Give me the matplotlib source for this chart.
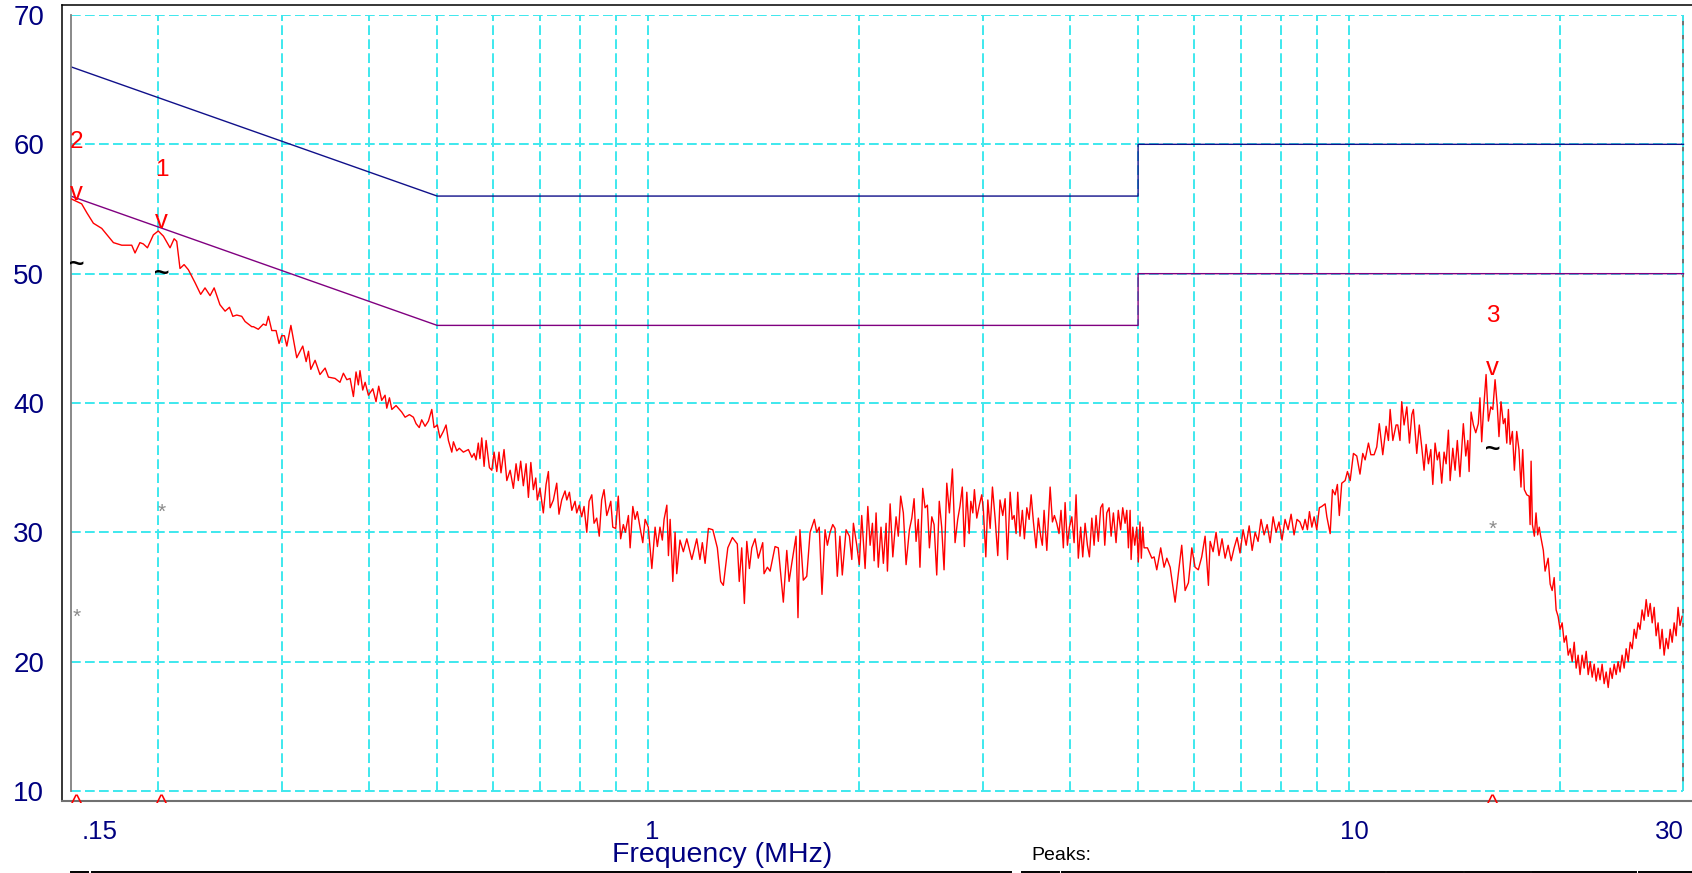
import numpy as np
import matplotlib
matplotlib.use('Agg')
import matplotlib.pyplot as plt
import matplotlib.transforms as mtransforms
from matplotlib.lines import Line2D
from matplotlib.ticker import NullLocator

plt.rcParams['font.family'] = ['Liberation Sans', 'DejaVu Sans']

# Scan trace (MHz, dBuV)
freq_mhz = [
    0.1500, 0.1555, 0.1582, 0.1616, 0.1661, 0.1726, 0.1774, 0.1833, 0.1853, 0.1883, 0.1904, 0.1930, 0.1968, 0.2000, 0.2034, 0.2079, 0.2107, 0.2125, 0.2148, 0.2177, 0.2208, 0.2257, 0.2299, 0.2332, 0.2371, 0.2403, 0.2449, 0.2491, 0.2527, 0.2555, 0.2588, 0.2631, 0.2660, 0.2719,
    0.2734, 0.2778, 0.2824, 0.2850, 0.2872, 0.2904, 0.2945, 0.2974, 0.3000, 0.3027, 0.3051, 0.3092, 0.3152, 0.3215, 0.3251, 0.3276, 0.3301, 0.3348, 0.3402, 0.3460, 0.3498, 0.3575, 0.3633, 0.3674, 0.3716, 0.3756, 0.3797, 0.3830, 0.3859, 0.3880, 0.3915, 0.3946, 0.3989, 0.4047, 0.4090, 0.4126, 0.4167, 0.4213, 0.4237, 0.4274, 0.4308, 0.4368, 0.4450, 0.4500, 0.4564, 0.4624, 0.4665, 0.4714, 0.4752, 0.4805, 0.4858, 0.4912, 0.4949, 0.5002, 0.5046,
    0.5102, 0.5148, 0.5188, 0.5246, 0.5274, 0.5332, 0.5377, 0.5449, 0.5540, 0.5603, 0.5645, 0.5681, 0.5723, 0.5754, 0.5788, 0.5833, 0.5872, 0.5936, 0.5983, 0.6028, 0.6081, 0.6126, 0.6166, 0.6228, 0.6285, 0.6354, 0.6422, 0.6479, 0.6527, 0.6578, 0.6636, 0.6696, 0.6747, 0.6801, 0.6858, 0.6912, 0.6948, 0.7008, 0.7086, 0.7150, 0.7205, 0.7246, 0.7324, 0.7405, 0.7460, 0.7527, 0.7610, 0.7654, 0.7720, 0.7781, 0.7864, 0.7908, 0.7974, 0.8038, 0.8100, 0.8173, 0.8236, 0.8309, 0.8371, 0.8444, 0.8515, 0.8583, 0.8650, 0.8728, 0.8774, 0.8844, 0.8902, 0.8989, 0.9064, 0.9135, 0.9216, 0.9278, 0.9371,
    0.9424, 0.9508, 0.9579, 0.9650, 0.9734, 0.9824, 0.9900, 1.0003, 1.0121, 1.0230, 1.0306, 1.0395, 1.0476, 1.0536, 1.0632, 1.0688, 1.0748, 1.0843, 1.0924, 1.0984, 1.1101, 1.1225, 1.1353, 1.1542, 1.1730, 1.1854, 1.1947, 1.2056, 1.2188, 1.2365, 1.2551, 1.2689, 1.2801, 1.2990, 1.3188, 1.3402, 1.3488, 1.3597, 1.3716, 1.3826, 1.3945, 1.4055, 1.4207, 1.4358, 1.4569, 1.4632, 1.4794, 1.4926, 1.5171, 1.5333, 1.5589, 1.5767, 1.5887, 1.6028, 1.6254, 1.6358, 1.6463, 1.6647, 1.6837, 1.7022, 1.7262, 1.7396, 1.7541, 1.7700, 1.7879, 1.8016, 1.8177,
    1.8338, 1.8475, 1.8613, 1.8774, 1.8921, 1.9157, 1.9368, 1.9522, 1.9624, 1.9842, 2.0008, 2.0168, 2.0393, 2.0577, 2.0733, 2.0890, 2.1006, 2.1142, 2.1298, 2.1487, 2.1654, 2.1850, 2.1945, 2.2141, 2.2337, 2.2577, 2.2744, 2.2922, 2.3124, 2.3333, 2.3589, 2.3776, 2.3954, 2.4110, 2.4288, 2.4420, 2.4644, 2.4834, 2.5025, 2.5191, 2.5390, 2.5580, 2.5804, 2.6020, 2.6228, 2.6432, 2.6671, 2.6901, 2.7167, 2.7406, 2.7645, 2.7848, 2.8066, 2.8256, 2.8484, 2.8702, 2.8863, 2.9052, 2.9204, 2.9432, 2.9678, 2.9916, 3.0078, 3.0320, 3.0522, 3.0755, 3.0987, 3.1259, 3.1532, 3.1764, 3.2055, 3.2303, 3.2551, 3.2842,
    3.3058, 3.3274, 3.3489, 3.3673, 3.3921, 3.4185, 3.4416, 3.4692, 3.4957, 3.5187, 3.5452, 3.5763, 3.6028, 3.6309, 3.6506, 3.6715, 3.7047, 3.7244, 3.7453, 3.7736, 3.7982, 3.8277, 3.8559, 3.8814, 3.9116, 3.9339, 3.9641, 3.9904, 4.0219, 4.0521, 4.0783, 4.1085, 4.1407, 4.1687, 4.2010, 4.2332, 4.2612, 4.2949, 4.3271, 4.3552, 4.3874, 4.4218, 4.4517, 4.4816, 4.5116, 4.5460, 4.5760, 4.6104, 4.6508, 4.6853, 4.7219, 4.7539, 4.7907, 4.8179, 4.8434, 4.8706, 4.8866, 4.9138, 4.9458, 4.9778, 5.0034, 5.0313, 5.0535, 5.0774, 5.0996, 5.1560, 5.2311, 5.2704, 5.3165, 5.3857, 5.4458, 5.4951, 5.5553, 5.6464, 5.7066, 5.7707, 5.8350, 5.8992, 5.9655, 6.0297, 6.0940, 6.1625, 6.2311, 6.2997, 6.3351,
    6.3975, 6.4599, 6.5223, 6.5880, 6.6548, 6.7215, 6.7883, 6.8550, 6.9218, 6.9885, 7.0597, 7.1308, 7.2020, 7.2731, 7.3443, 7.4155, 7.4882, 7.5640, 7.6399, 7.7157, 7.7915, 7.8674, 7.9432, 8.0225, 8.1035, 8.1845, 8.2655, 8.3465, 8.4275,
    8.5095, 8.5877, 8.6544, 8.7211, 8.7790, 8.8486, 8.9152, 8.9935, 9.0688, 9.1415, 9.2434, 9.2958, 9.3976, 9.4686, 9.5519, 9.6228, 9.6845, 9.7621, 9.8709, 9.9466, 10.036, 10.144, 10.256, 10.365, 10.460, 10.541, 10.657, 10.741, 10.857, 10.952, 11.043, 11.170, 11.294, 11.380, 11.444, 11.546, 11.670, 11.734, 11.820, 11.888, 11.980, 12.089, 12.193, 12.289, 12.353, 12.490, 12.594, 12.695, 12.793, 12.879, 12.978, 13.080, 13.166, 13.265, 13.363, 13.449, 13.557, 13.662, 13.754, 13.859, 13.937, 14.060, 14.165, 14.270, 14.394, 14.555, 14.672, 14.770, 14.834, 14.931, 15.044, 15.161, 15.288, 15.371, 15.460, 15.543, 15.684, 15.804, 15.930, 16.034, 16.154, 16.274, 16.363, 16.471, 16.599, 16.694, 16.788, 16.877, 16.972, 17.100, 17.212, 17.345, 17.473, 17.589, 17.690, 17.785, 17.928, 18.065, 18.124, 18.184, 18.261, 18.380, 18.481, 18.582, 18.677, 18.764, 18.930,
    19.039, 19.231, 19.359, 19.487, 19.615, 19.743, 19.871, 19.999, 20.135, 20.271, 20.406, 20.542, 20.678, 20.814, 20.950, 21.086, 21.221, 21.357, 21.502, 21.647, 21.792, 21.937, 22.082, 22.227, 22.372, 22.517, 22.662, 22.807, 22.962, 23.117, 23.271, 23.426, 23.581, 23.736, 23.891, 24.045, 24.200, 24.355, 24.520, 24.686, 24.851, 25.017, 25.182, 25.347, 25.513, 25.678, 25.844, 26.009, 26.186, 26.362, 26.539, 26.715, 26.892, 27.068, 27.245, 27.421, 27.598, 27.774, 27.963, 28.151, 28.340, 28.528, 28.717, 28.906, 29.094, 29.283, 29.471, 29.660, 29.860,
]
level_dbuv = [
    55.8, 55.4, 54.7, 53.9, 53.5, 52.4, 52.2, 52.2, 51.6, 52.4, 52.3, 52.0, 53.0, 53.3, 52.9, 52.0, 52.7, 52.5, 50.4, 50.7, 50.3, 49.3, 48.4, 48.9, 48.3, 48.9, 47.6, 47.1, 47.4, 46.7, 46.8, 46.7, 46.3, 45.9,
    45.9, 45.7, 46.1, 46.0, 46.7, 45.6, 45.6, 44.6, 45.2, 45.2, 44.4, 46.0, 43.5, 44.4, 43.2, 44.0, 42.6, 43.3, 42.2, 42.7, 42.0, 41.9, 41.6, 42.3, 41.8, 41.9, 40.5, 42.4, 41.4, 42.5, 41.0, 41.6, 40.6, 41.1, 40.1, 41.3, 40.2, 40.6, 39.6, 40.4, 39.5, 39.8, 39.3, 38.9, 39.1, 38.9, 38.4, 38.1, 38.7, 38.2, 38.6, 39.5, 38.1, 38.3, 37.3,
    37.8, 38.3, 37.1, 36.2, 37.0, 36.3, 36.5, 36.2, 36.4, 35.8, 36.1, 35.6, 36.9, 35.7, 37.3, 35.1, 37.1, 35.0, 34.8, 36.2, 34.7, 36.2, 34.6, 36.4, 34.0, 34.8, 33.4, 35.3, 34.0, 35.5, 33.6, 35.3, 32.7, 35.4, 33.3, 34.2, 32.5, 33.4, 31.5, 33.7, 34.7, 31.9, 32.5, 33.8, 31.4, 32.5, 33.2, 32.5, 33.1, 31.7, 32.4, 31.5, 32.1, 31.2, 32.0, 30.0, 32.4, 32.9, 30.7, 31.1, 29.7, 32.5, 33.3, 31.3, 31.7, 32.4, 30.4, 30.3, 32.8, 29.5, 30.6, 30.0, 31.3,
    28.8, 32.0, 31.0, 31.6, 30.4, 29.2, 31.0, 30.4, 27.2, 30.4, 28.9, 30.4, 29.4, 31.0, 32.1, 28.2, 31.0, 26.2, 30.0, 26.8, 29.4, 28.5, 29.5, 27.9, 29.5, 27.9, 29.2, 27.6, 30.3, 30.2, 28.8, 26.2, 25.9, 28.8, 29.6, 29.1, 26.2, 28.8, 24.5, 29.3, 27.2, 28.8, 29.5, 28.0, 29.2, 26.8, 27.3, 27.0, 28.9, 28.8, 24.6, 28.6, 26.2, 27.6, 29.7, 23.4, 30.2, 26.3, 26.6, 30.0, 31.0, 30.0, 30.4, 25.2, 30.2, 29.0, 30.0,
    30.6, 30.3, 26.6, 29.7, 26.7, 30.2, 29.7, 27.9, 30.7, 29.0, 27.5, 31.3, 27.2, 32.0, 29.0, 30.7, 27.8, 31.5, 27.3, 30.4, 27.6, 30.7, 27.0, 32.2, 28.1, 31.2, 29.7, 32.8, 31.5, 27.5, 30.2, 31.1, 32.6, 29.3, 31.0, 27.3, 33.4, 31.9, 32.1, 28.8, 31.2, 30.6, 26.7, 32.4, 30.4, 27.1, 33.8, 31.5, 34.9, 29.2, 31.0, 32.0, 33.5, 28.9, 33.1, 29.9, 32.4, 31.5, 33.3, 31.1, 32.1, 32.9, 31.7, 28.1, 32.5, 30.3, 33.5, 31.1, 28.2, 32.5, 31.3, 32.6, 27.9, 33.1,
    31.0, 31.3, 29.9, 33.1, 29.7, 31.7, 29.5, 31.9, 31.0, 32.9, 30.8, 28.8, 31.1, 29.7, 29.0, 31.7, 28.6, 31.0, 33.5, 30.8, 31.3, 30.7, 29.9, 31.7, 28.8, 32.3, 29.0, 30.4, 31.2, 29.2, 32.9, 28.0, 30.4, 28.1, 30.7, 29.0, 28.1, 31.1, 29.0, 31.3, 29.3, 31.9, 32.2, 29.0, 31.5, 31.9, 29.7, 31.5, 29.2, 31.7, 30.2, 31.9, 30.7, 31.7, 28.8, 31.7, 27.9, 30.4, 29.0, 30.4, 27.7, 30.8, 28.0, 30.4, 28.8, 28.8, 28.0, 28.1, 27.1, 28.8, 27.3, 28.0, 27.3, 24.6, 26.8, 29.0, 25.5, 26.1, 28.8, 27.3, 27.1, 28.1, 29.7, 25.9, 29.3,
    28.5, 30.0, 28.2, 29.5, 28.0, 29.0, 27.8, 28.8, 29.6, 28.4, 30.2, 29.0, 30.5, 28.6, 30.0, 29.3, 31.0, 29.8, 30.6, 29.2, 31.2, 30.0, 30.8, 29.4, 31.0, 30.2, 31.4, 29.8, 31.0,
    30.8, 30.2, 31.0, 30.2, 31.6, 30.4, 31.2, 30.2, 31.9, 32.0, 32.2, 31.2, 29.9, 33.3, 32.9, 33.7, 31.3, 33.8, 34.0, 34.7, 34.0, 36.1, 35.9, 34.5, 36.1, 35.6, 36.9, 36.0, 36.0, 36.6, 38.4, 36.0, 38.2, 37.1, 39.5, 37.1, 38.3, 38.3, 37.1, 40.1, 38.3, 39.7, 36.9, 39.1, 39.5, 36.1, 38.3, 36.6, 34.8, 36.8, 35.3, 36.4, 33.7, 36.9, 35.6, 36.2, 33.8, 36.2, 35.3, 37.9, 34.0, 36.5, 34.8, 37.1, 34.3, 38.4, 35.9, 37.1, 34.7, 39.3, 38.3, 37.7, 38.4, 40.4, 37.0, 39.2, 42.2, 38.6, 39.7, 39.5, 41.8, 39.7, 37.4, 40.1, 38.4, 38.8, 36.9, 39.5, 36.8, 37.8, 34.8, 37.8, 36.4, 33.5, 36.4, 33.3, 32.9, 32.8, 30.6, 35.5, 30.6, 29.7, 31.5, 29.8, 30.4, 29.7, 28.6,
    27.0, 28.0, 26.0, 25.5, 26.5, 24.0, 23.5, 22.5, 23.0, 21.5, 22.0, 20.5, 21.0, 20.0, 21.5, 19.5, 20.5, 19.0, 20.5, 19.5, 20.8, 19.0, 20.0, 18.8, 19.8, 18.5, 19.5, 18.6, 19.8, 18.3, 19.2, 18.0, 19.5, 18.7, 19.8, 19.0, 20.0, 19.2, 20.5, 19.5, 21.0, 20.0, 21.5, 21.0, 22.5, 21.8, 23.0, 22.5, 24.0, 23.2, 24.8, 23.5, 24.5, 23.0, 24.2, 22.0, 23.0, 21.0, 22.5, 20.5, 21.8, 21.0, 22.5, 21.5, 23.0, 22.0, 24.2, 22.8, 23.5,
]
assert len(freq_mhz) == len(level_dbuv)

# Limit lines
limit_freq = [0.15, 0.5, 5.0, 5.0, 30.0]
qp_limit = [66, 56, 56, 60, 60]
av_limit = [56, 46, 46, 50, 50]

# Peak markers
marker_names = ['1', '2', '3']
marker_freq = [0.2022, 0.1530, 16.03]
marker_peak = [53.5, 55.7, 42.2]
marker_qp = [50.0, 50.7, 36.4]
marker_av = [31.8, 23.7, 30.5]

grid_freq = [0.2, 0.3, 0.4, 0.5, 0.6, 0.7, 0.8, 0.9, 1, 2, 3, 4, 5, 6, 7, 8, 9, 10, 20, 30]
grid_level = [10, 20, 30, 40, 50, 60, 70]
x_labels = [('.15', 0.1555, 'left'), ('1', 1.0126, 'center'), ('10', 10.16, 'center'), ('30', 30.0, 'right')]

W, H = 1692, 873
NAVY = '#000080'
CYAN = '#3ee8ee'

fig = plt.figure(figsize=(W / 100, H / 100), dpi=100)
ax = fig.add_axes([70.7 / W, (H - 801) / H, (W - 70.7) / W, (801 - 15) / H])
ax.set_xscale('log')
ax.set_xlim(0.15, 30.85)
ax.set_ylim(9.225, 70)

for s in ['top', 'right', 'bottom']:
    ax.spines[s].set_visible(False)
ax.spines['left'].set_color('#808080')
ax.spines['left'].set_linewidth(1.3)
ax.spines['left'].set_bounds(10, 70)

# right edge line under the dashed grid
ax.vlines(30, 10, 70, color='#707070', lw=1.4, zorder=1)

dash = (0, (5, 2.2))
ax.vlines(grid_freq, 10, 70, colors=CYAN, lw=1.4, linestyles=[dash], zorder=1.5)
ax.hlines(grid_level, 0.15, 30, colors=CYAN, lw=1.4, linestyles=[dash], zorder=1.5)

ax.plot(limit_freq, qp_limit, color='#10108a', lw=1.0, zorder=2)
ax.plot(limit_freq, av_limit, color='#800080', lw=1.0, zorder=2)
ax.plot(freq_mhz, level_dbuv, color='#ff0000', lw=1.0, zorder=3)

# y ticks
ax.set_yticks(grid_level)
ax.set_yticklabels([str(v) for v in grid_level])
ax.tick_params(axis='y', length=0, pad=19, labelsize=20, labelcolor=NAVY)
ax.set_xticks([])
ax.xaxis.set_minor_locator(NullLocator())

# x tick labels and axis title below the plot
tr = mtransforms.blended_transform_factory(ax.transData, fig.transFigure)
for lab, f, ha in x_labels:
    ax.text(f, 1 - 839 / H, lab, transform=tr, ha=ha, va='baseline',
            fontsize=18.6, color=NAVY, clip_on=False)
fig.text(722 / W, 1 - 861.5 / H, 'Frequency (MHz)', ha='center', va='baseline',
         fontsize=20.5, color=NAVY)
fig.text(1031 / W, 1 - 860 / H, 'Peaks:', ha='left', va='baseline',
         fontsize=14, color='black')

# peak markers
for name, f, pk, qp, av in zip(marker_names, marker_freq, marker_peak, marker_qp, marker_av):
    ax.text(f, pk + 4.5, name, ha='center', va='center', fontsize=17.5, color='red', zorder=5)
    ax.text(f, pk, 'v', ha='center', va='baseline', fontsize=18.5, color='red', zorder=5)
    ax.text(f, qp, '~', ha='center', va='center', fontsize=19, color='black',
            fontweight='bold', zorder=5)
    ax.text(f, av - 0.25, '*', ha='center', va='center', fontsize=15, color='#8a8a8a', zorder=5)
    # caret under the axis, drawn above the frame line
    fig.text(f, 1 - 805 / H, '^', transform=tr, ha='center', va='center',
             fontsize=17, color='red', zorder=5)


def fig_line(x0, y0, x1, y1, color, lw):
    fig.add_artist(Line2D([x0 / W, x1 / W], [1 - y0 / H, 1 - y1 / H],
                          transform=fig.transFigure, color=color, lw=lw, zorder=2))


# outer frame
fig_line(62, 5, 62, 801, 'black', 1.1)
fig_line(62, 5, W, 5, 'black', 1.1)
fig_line(62, 801, W, 801, '#707070', 1.5)

# top border of the peaks table (cut by the image edge)
for x0, x1 in [(70.7, 88), (91.7, 1010.7), (1022, 1058.5), (1061.6, 1385), (1387.3, 1462.7),
               (1465, 1530), (1532, 1636), (1638.7, W)]:
    fig_line(x0, 871.6, x1, 871.6, 'black', 1.4)

fig.savefig('out.png', dpi=100)
